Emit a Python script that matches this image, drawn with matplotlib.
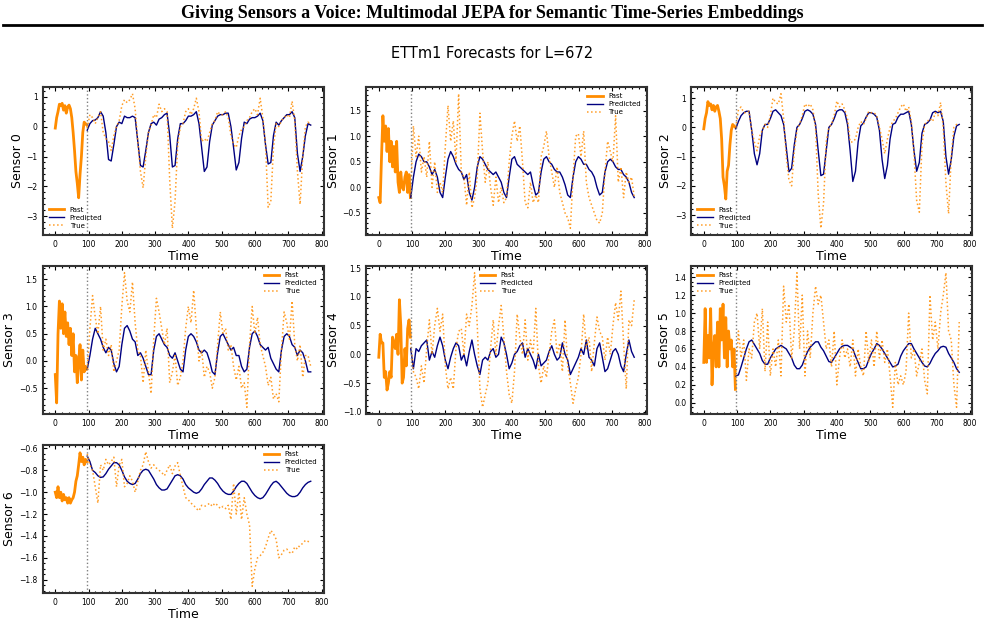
import numpy as np
import matplotlib
matplotlib.use("Agg")
import matplotlib.pyplot as plt

# time axis: 96 past steps, 672 forecast steps (values read every ~4 / 8 steps)
past_len = 96
horizon = 672

s0_past = [-0.05, 0.3, 0.5, 0.75, 0.7, 0.78, 0.55, 0.7, 0.45, 0.65, 0.72, 0.6,
           0.3, -0.2, -0.8, -1.5, -1.9, -2.38, -1.6, -1.0, -0.2, 0.15, 0.1, 0.05]
s0_pred = [-0.12, 0.1, 0.2, 0.22, 0.3, 0.5, 0.35, -0.2, -1.1, -1.15, -0.6, 0.0, 0.15, 0.1,
           0.35, 0.3, 0.3, 0.35, 0.3, -0.5, -1.3, -1.35, -0.8, -0.2, 0.1, 0.15, 0.05, 0.25,
           0.3, 0.4, 0.45, -0.3, -1.35, -1.3, -0.4, 0.1, 0.1, 0.2, 0.35, 0.35, 0.4, 0.5,
           0.1, -0.7, -1.5, -1.35, -0.5, 0.05, 0.2, 0.35, 0.4, 0.4, 0.45, 0.45, 0.0, -0.7,
           -1.45, -1.2, -0.4, 0.15, 0.1, 0.25, 0.3, 0.3, 0.35, 0.45, 0.2, -0.6, -1.25,
           -1.2, -0.3, 0.15, 0.05, 0.2, 0.3, 0.4, 0.4, 0.5, 0.3, -0.9, -1.5, -1.0, -0.3,
           0.1, 0.05]
s0_true = [-0.05, 0.4, 0.3, 0.1, 0.3, 0.5, -0.2, -0.4, -0.5, -0.8, -0.3, 0.0, 0.2, 0.7,
           0.9, 0.8, 0.9, 1.1, 0.6, -0.5, -1.5, -2.05, -1.0, -0.2, 0.05, 0.4, 0.3, 0.75,
           0.5, 0.6, 0.5, -1.8, -3.4, -2.5, -0.6, 0.0, 0.1, 0.5, 0.6, 0.4, 0.6, 0.95, 0.5,
           -0.5, -0.4, -0.5, -0.2, 0.1, 0.2, 0.5, 0.4, 0.4, 0.5, 0.3, -0.3, -0.6, -0.7,
           -0.3, -0.1, 0.0, 0.2, 0.3, 0.5, 0.6, 0.4, 0.95, 0.3, -0.6, -2.7, -2.5, -0.7,
           0.1, 0.0, 0.2, 0.3, 0.4, 0.3, 0.85, 0.2, -1.5, -2.6, -1.0, 0.0, 0.15, 0.05]

s1_past = [-0.2, -0.3, 0.6, 1.4, 0.9, 1.2, 0.7, 1.15, 0.5, 0.9, 0.4, 0.8, 0.3, 0.9, 0.1,
           -0.1, 0.3, 0.0, -0.05, 0.2, 0.3, -0.1, 0.25, -0.2]
s1_pred = [-0.2, 0.2, 0.5, 0.65, 0.6, 0.5, 0.5, 0.4, 0.25, 0.35, 0.2, -0.1, -0.2, 0.2,
           0.55, 0.7, 0.6, 0.45, 0.35, 0.3, 0.15, 0.25, -0.1, -0.25, 0.0, 0.4, 0.6, 0.55,
           0.45, 0.35, 0.3, 0.25, 0.3, 0.2, 0.1, -0.1, -0.2, 0.2, 0.55, 0.6, 0.45, 0.4,
           0.35, 0.3, 0.25, 0.3, 0.05, -0.15, -0.1, 0.3, 0.55, 0.6, 0.5, 0.45, 0.35, 0.3,
           0.3, 0.2, 0.05, -0.15, -0.2, 0.2, 0.5, 0.6, 0.55, 0.45, 0.45, 0.35, 0.3, 0.2,
           0.0, -0.15, -0.1, 0.3, 0.5, 0.55, 0.5, 0.4, 0.35, 0.35, 0.25, 0.2, 0.1, -0.1,
           -0.2]
s1_true = [-0.1, 1.2, 0.6, 1.0, 0.3, 0.6, 0.2, 0.9, 0.0, 0.5, -0.1, 0.1, -0.1, 0.8, 1.6,
           0.9, 1.3, 0.5, 1.83, 0.3, 0.2, -0.35, 0.3, -0.4, -0.2, 0.2, 1.45, 0.7, 0.1, 0.5,
           0.0, -0.35, 0.2, -0.3, 0.0, -0.3, -0.2, 0.5, 1.0, 1.3, 0.9, 1.2, 0.5, -0.3, -0.4,
           0.1, -0.3, -0.15, -0.3, 0.6, 0.8, 1.1, 0.6, 0.3, 0.0, 0.4, -0.1, -0.3, -0.5,
           -0.6, -0.8, 0.2, 1.0, 1.05, 0.6, 1.1, 0.1, -0.2, -0.35, -0.5, -0.65, -0.7, -0.5,
           0.3, 0.9, 0.7, 0.5, 1.4, 0.1, 0.4, -0.2, 0.3, 0.1, 0.2, -0.2]

s2_past = [-0.05, 0.3, 0.5, 0.88, 0.75, 0.8, 0.6, 0.75, 0.55, 0.7, 0.75, 0.55, 0.3, -0.4,
           -1.7, -2.0, -2.45, -1.5, -1.3, -0.6, -0.1, 0.1, 0.05, 0.0]
s2_pred = [-0.05, 0.2, 0.4, 0.5, 0.55, 0.55, -0.1, -0.9, -1.28, -0.9, -0.1, 0.1, 0.1, 0.3,
           0.55, 0.6, 0.5, 0.4, 0.1, -0.7, -1.52, -1.4, -0.6, 0.0, 0.1, 0.3, 0.55, 0.6,
           0.55, 0.45, 0.1, -0.8, -1.65, -1.6, -0.8, 0.0, 0.1, 0.3, 0.55, 0.6, 0.6, 0.5,
           0.1, -0.8, -1.85, -1.5, -0.5, 0.05, 0.15, 0.35, 0.5, 0.5, 0.45, 0.35, -0.1,
           -1.1, -1.75, -1.3, -0.4, 0.1, 0.15, 0.35, 0.45, 0.45, 0.5, 0.55, 0.1, -0.8, -1.5,
           -1.2, -0.2, 0.1, 0.15, 0.25, 0.5, 0.55, 0.5, 0.55, 0.2, -1.0, -1.6, -1.1, -0.3,
           0.05, 0.1]
s2_true = [0.0, 0.6, 0.7, 0.5, 0.5, 0.55, -0.1, -0.5, -0.8, -0.3, -0.1, 0.1, 0.0, 0.4,
           1.0, 0.85, 0.8, 1.15, 0.3, -1.0, -1.8, -2.0, -0.8, -0.1, 0.1, 0.4, 0.8, 0.7,
           0.8, 0.6, 0.0, -2.3, -3.45, -2.6, -0.5, 0.0, 0.1, 0.4, 0.9, 0.7, 0.8, 0.6, 0.3,
           -0.5, -0.5, -0.4, 0.0, 0.2, 0.1, 0.3, 0.55, 0.5, 0.5, 0.4, 0.0, -0.4, -0.9, -0.4,
           0.0, 0.2, 0.3, 0.5, 0.7, 0.8, 0.55, 0.7, 0.2, -0.9, -2.5, -2.9, -0.6, 0.1, 0.2,
           0.3, 0.2, 0.5, 0.4, 0.85, 0.0, -1.9, -2.95, -1.0, 0.0, 0.1, 0.05]

s3_past = [-0.25, -0.77, 0.5, 1.1, 0.6, 1.05, 0.5, 0.9, 0.45, 0.7, 0.3, 0.6, 0.1, 0.5,
           -0.2, 0.1, -0.4, 0.0, 0.3, -0.35, 0.2, -0.2, -0.1, -0.15]
s3_pred = [-0.15, 0.1, 0.4, 0.6, 0.5, 0.4, 0.25, 0.15, 0.25, 0.2, -0.05, -0.2, -0.1, 0.3,
           0.6, 0.65, 0.55, 0.4, 0.35, 0.1, 0.15, 0.05, -0.1, -0.25, -0.25, 0.2, 0.45, 0.5,
           0.4, 0.3, 0.25, 0.1, 0.05, 0.15, 0.0, -0.15, -0.2, 0.2, 0.45, 0.5, 0.45, 0.35,
           0.2, 0.15, 0.2, 0.15, 0.0, -0.2, -0.25, 0.15, 0.45, 0.5, 0.4, 0.3, 0.2, 0.25,
           0.1, 0.1, -0.1, -0.2, -0.15, 0.25, 0.5, 0.55, 0.45, 0.3, 0.25, 0.2, 0.25, 0.05,
           -0.05, -0.15, -0.2, 0.2, 0.45, 0.5, 0.45, 0.3, 0.25, 0.1, 0.2, 0.15, 0.0, -0.2,
           -0.2]
s3_true = [-0.15, 0.6, 1.2, 0.8, 0.5, 1.0, 0.2, 0.4, 0.1, 0.3, -0.2, 0.0, 0.2, 1.0, 1.62,
           1.1, 0.9, 1.45, 0.7, 0.2, 0.1, -0.4, 0.2, -0.2, -0.6, 0.4, 1.15, 0.9, 0.6, 0.3,
           0.6, -0.4, -0.2, 0.1, -0.45, -0.3, 0.0, 0.6, 1.0, 0.7, 1.3, 0.6, 0.0, 0.2, -0.3,
           -0.1, -0.2, -0.5, -0.3, 0.3, 0.9, 0.5, 0.6, 0.2, 0.3, -0.1, -0.35, -0.1, -0.5,
           -0.4, -0.85, 0.3, 1.0, 0.5, 0.8, 0.3, 0.1, -0.1, -0.45, -0.3, -0.7, -0.6, -0.75,
           0.2, 0.9, 0.7, 0.4, 1.1, 0.3, 0.0, 0.3, -0.3, 0.1, 0.1, -0.1]

s4_past = [-0.05, 0.35, 0.2, 0.2, -0.4, -0.3, -0.62, -0.5, -0.3, -0.4, 0.3, 0.2, 0.1,
           0.35, 0.0, 0.95, 0.5, -0.5, -0.4, 0.1, -0.2, 0.45, 0.6, 0.3]
s4_pred = [0.1, -0.25, 0.1, 0.05, 0.15, 0.2, 0.25, -0.1, 0.05, -0.05, 0.15, 0.3, 0.15,
           -0.1, -0.25, -0.05, 0.1, 0.2, 0.15, -0.1, 0.0, -0.2, 0.05, 0.25, 0.0, -0.2,
           -0.35, -0.1, -0.05, -0.1, 0.05, 0.1, -0.05, 0.0, 0.3, 0.2, 0.0, -0.25, -0.15,
           0.0, 0.05, 0.15, 0.2, -0.05, 0.1, 0.0, -0.1, -0.25, 0.0, -0.2, -0.15, -0.1, 0.05,
           0.15, 0.0, -0.1, -0.05, 0.2, 0.0, -0.1, -0.35, -0.25, -0.15, -0.05, 0.1, 0.0,
           0.25, -0.05, -0.1, -0.2, 0.1, 0.2, -0.05, -0.3, -0.25, -0.1, 0.05, 0.1, 0.0,
           -0.2, -0.3, 0.0, 0.25, 0.05, -0.05]
s4_true = [0.2, -0.3, -0.4, -0.6, -0.2, -0.5, 0.1, 0.6, 0.0, 0.5, 0.8, 0.4, 0.7, -0.2,
           -0.6, -0.4, -0.6, 0.1, 0.4, 0.45, 0.0, 0.7, 0.5, 0.85, 1.42, 0.5, -0.6, -0.92,
           -0.7, -0.5, 0.1, 0.6, 0.0, 0.5, 0.85, 0.3, -0.3, -0.7, -0.85, -0.3, 0.7, 0.3,
           0.0, 0.6, -0.1, 0.25, 0.0, 0.8, -0.2, -0.5, -0.2, -0.4, 0.0, 0.4, 0.6, 0.0, 0.2,
           -0.3, 0.6, -0.2, -0.5, -0.85, -0.6, -0.4, 0.0, 0.7, 0.1, 0.3, -0.3, 0.2, 0.65,
           0.4, 0.3, -0.1, 0.3, 0.0, 0.5, 0.9, 0.6, 1.1, 0.2, -0.6, 0.6, 0.5, 0.95]

s5_past = [0.45, 1.05, 0.45, 0.75, 0.5, 1.05, 0.2, 0.6, 0.75, 0.4, 0.9, 0.4, 1.05, 0.7,
           1.1, 0.5, 0.95, 0.4, 0.8, 0.6, 0.7, 0.4, 0.6, 0.15]
s5_pred = [0.3, 0.31, 0.4, 0.5, 0.6, 0.68, 0.7, 0.65, 0.6, 0.55, 0.47, 0.43, 0.43, 0.5,
           0.55, 0.6, 0.62, 0.64, 0.62, 0.6, 0.55, 0.5, 0.42, 0.38, 0.38, 0.42, 0.5, 0.57,
           0.62, 0.65, 0.68, 0.68, 0.62, 0.58, 0.52, 0.46, 0.45, 0.5, 0.55, 0.6, 0.63, 0.64,
           0.64, 0.62, 0.6, 0.52, 0.45, 0.38, 0.38, 0.4, 0.48, 0.55, 0.6, 0.66, 0.64, 0.6,
           0.55, 0.5, 0.45, 0.4, 0.41, 0.43, 0.52, 0.58, 0.62, 0.66, 0.66, 0.6, 0.55, 0.5,
           0.45, 0.41, 0.4, 0.44, 0.5, 0.55, 0.58, 0.62, 0.63, 0.62, 0.55, 0.5, 0.45, 0.38,
           0.34]
s5_true = [0.3, 0.8, 0.5, 0.7, 0.25, 0.6, 0.5, 0.9, 1.0, 0.6, 1.05, 0.35, 0.9, 0.3, 0.6,
           0.4, 0.7, 0.3, 1.3, 0.9, 1.1, 0.5, 0.8, 1.45, 0.6, 1.2, 0.3, 0.8, 0.5, 1.0, 1.3,
           1.1, 1.2, 0.9, 0.6, 0.7, 0.4, 0.8, 0.2, 0.5, 0.7, 0.5, 0.6, 0.4, 0.7, 0.3, 0.6,
           0.4, 0.3, 0.8, 0.45, 0.7, 0.4, 0.8, 0.5, 0.7, 0.45, 0.6, 0.3, -0.05, 0.45, 0.2,
           0.3, 0.2, 0.35, 1.0, 0.5, 0.6, 0.3, 0.45, 0.6, 0.25, 0.1, 1.2, 0.7, 0.9, 0.6,
           1.0, 1.2, 1.45, 0.8, 0.7, 0.2, -0.05, 0.9]

s6_past = [-1.0, -1.05, -0.95, -1.05, -1.0, -1.08, -1.02, -1.07, -1.05, -1.1, -1.05, -1.1,
           -1.07, -1.05, -1.0, -0.9, -0.85, -0.75, -0.64, -0.72, -0.68, -0.75, -0.7, -0.72]
s6_pred = [-0.67, -0.72, -0.8, -0.82, -0.85, -0.865, -0.86, -0.83, -0.79, -0.76, -0.73,
           -0.73, -0.75, -0.8, -0.86, -0.9, -0.92, -0.93, -0.92, -0.88, -0.83, -0.8, -0.79,
           -0.8, -0.84, -0.88, -0.93, -0.96, -0.98, -0.98, -0.97, -0.93, -0.89, -0.85, -0.84,
           -0.85, -0.88, -0.93, -0.96, -0.98, -1.0, -1.01, -1.0, -0.97, -0.93, -0.9, -0.87,
           -0.87, -0.89, -0.92, -0.96, -0.99, -1.01, -1.02, -1.02, -0.99, -0.95, -0.92, -0.9,
           -0.9, -0.92, -0.96, -1.0, -1.03, -1.05, -1.06, -1.05, -1.02, -0.98, -0.94, -0.91,
           -0.9, -0.92, -0.95, -0.98, -1.01, -1.03, -1.04, -1.04, -1.03, -1.0, -0.96, -0.93,
           -0.91, -0.9]
s6_true = [-0.65, -0.75, -0.8, -0.95, -1.1, -0.75, -0.8, -0.7, -0.75, -0.72, -0.68, -0.95,
           -0.75, -0.7, -0.95, -0.92, -0.85, -0.9, -1.0, -0.9, -0.8, -0.75, -0.63, -0.72,
           -0.78, -0.75, -0.78, -0.8, -0.82, -0.85, -0.8, -0.75, -0.83, -0.76, -0.73, -0.85,
           -0.95, -1.05, -1.07, -1.1, -1.12, -1.15, -1.17, -1.12, -1.13, -1.12, -1.1, -1.13,
           -1.1, -1.12, -1.15, -1.13, -1.15, -1.12, -1.25, -0.92, -1.2, -1.0, -1.25, -1.05,
           -1.2, -1.3, -1.86, -1.7, -1.6, -1.58, -1.55, -1.5, -1.42, -1.35, -1.38, -1.43,
           -1.6, -1.57, -1.53, -1.52, -1.55, -1.56, -1.5, -1.52, -1.48, -1.47, -1.44, -1.45,
           -1.46]

sensors = [
    (s0_past, s0_pred, s0_true, "lower left"),
    (s1_past, s1_pred, s1_true, "upper right"),
    (s2_past, s2_pred, s2_true, "lower left"),
    (s3_past, s3_pred, s3_true, "upper right"),
    (s4_past, s4_pred, s4_true, "upper center"),
    (s5_past, s5_pred, s5_true, "upper left"),
    (s6_past, s6_pred, s6_true, "upper right"),
]

W, H = 985, 622
fig = plt.figure(figsize=(W / 100, H / 100), dpi=100)

# paper style header
fig.text(0.5, 1 - 14 / H, "Giving Sensors a Voice: Multimodal JEPA for Semantic Time-Series Embeddings",
         ha="center", va="center", fontsize=13, fontweight="bold", family="Liberation Serif")
fig.add_artist(plt.Line2D([3 / W, 982 / W], [1 - 25 / H, 1 - 25 / H], color="black", lw=2))
fig.text(0.5, 1 - 54 / H, "ETTm1 Forecasts for L=672", ha="center", va="center", fontsize=10.5)

lefts = [42.5, 366, 691]
bottoms = [235, 414, 593]
aw, ah = 281, 148

for i, (past, pred, true, loc) in enumerate(sensors):
    r, c = divmod(i, 3)
    ax = fig.add_axes([lefts[c] / W, 1 - bottoms[r] / H, aw / W, ah / H])
    tp = np.linspace(0, past_len - 1, len(past))
    tf = np.linspace(past_len, past_len + horizon - 1, len(pred))
    ax.plot(tp, past, color="darkorange", lw=2, label="Past")
    ax.plot(tf, pred, color="navy", lw=1, label="Predicted")
    ax.plot(tf, true, color="darkorange", lw=1.1, ls=":", alpha=0.85, label="True")
    ax.axvline(past_len, color="grey", ls=":", lw=1)
    ax.set_xticks(range(0, 801, 100))
    ax.minorticks_on()
    ax.tick_params(which="both", direction="in", top=True, right=True, labelsize=5.5, width=0.8)
    ax.tick_params(which="major", length=3)
    ax.tick_params(which="minor", length=1.5)
    for sp in ax.spines.values():
        sp.set_linewidth(1.5)
        sp.set_color("#333333")
    ax.set_xlabel("Time", fontsize=9, labelpad=1)
    ax.set_ylabel(f"Sensor {i}", fontsize=9, labelpad=2)
    ax.legend(loc=loc, fontsize=5, frameon=False, handlelength=2.2, labelspacing=0.3)

fig.savefig("out.png", dpi=100)
